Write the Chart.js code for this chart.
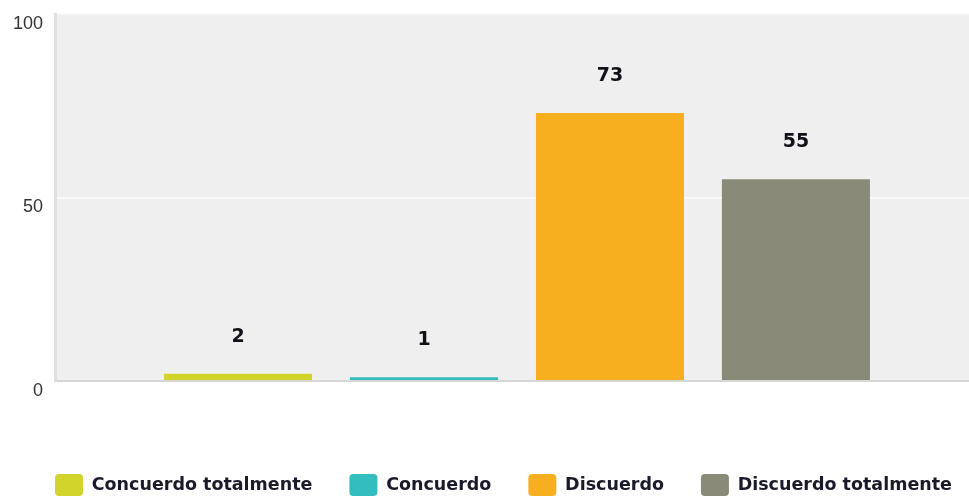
<!DOCTYPE html>
<html>
<head>
<meta charset="utf-8">
<script src="https://cdn.jsdelivr.net/npm/chart.js@4/dist/chart.umd.min.js"></script>
<style>
html,body{margin:0;padding:0;background:#fff;overflow:hidden;width:969px;height:497px;}
#wrap{width:979px;height:497px;position:relative;}
</style>
</head>
<body>
<div id="wrap"><canvas id="c"></canvas></div>
<script>
const categories = [''];
const seriesNames = ['Concuerdo totalmente', 'Concuerdo', 'Discuerdo', 'Discuerdo totalmente'];
const seriesValues = [[2], [1], [73], [55]];
const seriesColors = ['#d1d52b', '#34bdbf', '#f7ae1f', '#8a8a78'];
const yTicks = [0, 50, 100];

const plotBg = {
  id: 'plotBg',
  beforeDraw(chart) {
    const {ctx, chartArea: a} = chart;
    ctx.save();
    ctx.fillStyle = '#efefef';
    ctx.fillRect(a.left, a.top, a.right - a.left, a.bottom - a.top);
    ctx.restore();
  }
};

const shiftLegend = {
  id: 'shiftLegend',
  afterLayout(chart) {
    if (chart.legend) { chart.legend.left = 18; chart.legend.right = 1400; }
  }
};

const valueLabels = {
  id: 'valueLabels',
  afterDatasetsDraw(chart) {
    const {ctx} = chart;
    ctx.save();
    ctx.font = 'bold 19px "DejaVu Sans"';
    ctx.fillStyle = '#111118';
    ctx.textAlign = 'center';
    ctx.textBaseline = 'middle';
    chart.data.datasets.forEach((ds, i) => {
      const meta = chart.getDatasetMeta(i);
      meta.data.forEach((bar, j) => {
        ctx.fillText(String(ds.data[j]), bar.x, bar.y - 37);
      });
    });
    ctx.restore();
  }
};

new Chart(document.getElementById('c'), {
  type: 'bar',
  data: {
    labels: categories,
    datasets: seriesNames.map((n, i) => ({
      label: n,
      data: seriesValues[i],
      backgroundColor: seriesColors[i],
      borderWidth: 0,
      categoryPercentage: 0.805,
      barPercentage: 0.796
    }))
  },
  options: {
    responsive: true,
    maintainAspectRatio: false,
    animation: false,
    layout: {padding: {top: 14, right: 0, bottom: -9, left: 0}},
    plugins: {
      tooltip: {enabled: false},
      legend: {
        position: 'bottom',
        align: 'start',
        labels: {
          boxWidth: 28,
          boxHeight: 22,
          padding: 37,
          useBorderRadius: true,
          borderRadius: 4,
          color: '#1a1a2a',
          font: {family: '"DejaVu Sans"', size: 17.5, weight: 'bold'}
        }
      }
    },
    scales: {
      x: {
        grid: {display: false},
        border: {display: true, color: '#d6d6d6', width: 2},
        ticks: {display: false},
        afterFit(axis) { axis.height = 56; axis.paddingLeft = 0; axis.paddingRight = 0; }
      },
      y: {
        min: 0,
        max: 100,
        afterBuildTicks(axis) { axis.ticks = yTicks.map(v => ({value: v})); },
        afterFit(axis) { axis.width = 55; axis.paddingTop = 0; axis.paddingBottom = 0; },
        grid: {
          drawTicks: false,
          lineWidth: 2,
          color: (c) => c.tick && c.tick.value === 0 ? 'rgba(0,0,0,0)' : '#f9f9f9'
        },
        border: {display: true, color: '#e0e0e0', width: 3},
        ticks: {
          padding: 12,
          labelOffset: 10,
          color: '#333333',
          font: {family: '"Liberation Sans"', size: 18}
        }
      }
    }
  },
  plugins: [plotBg, shiftLegend, valueLabels]
});
</script>
</body>
</html>
